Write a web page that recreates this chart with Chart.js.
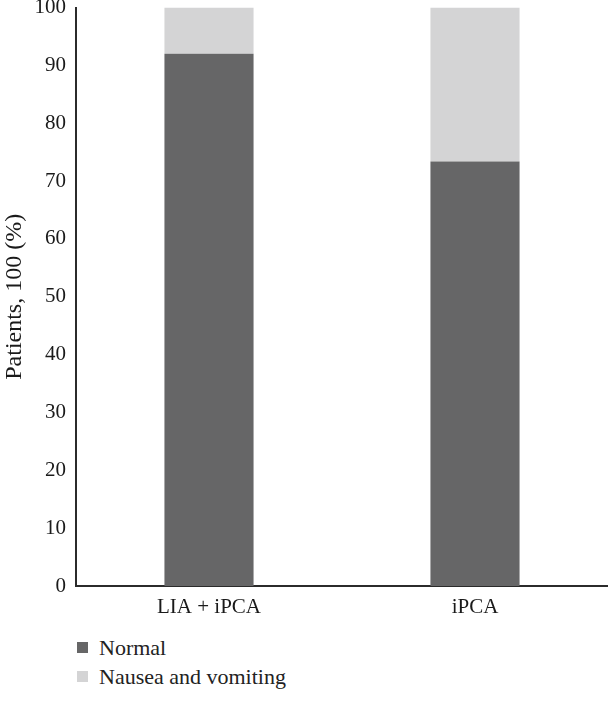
<!DOCTYPE html>
<html>
<head>
<meta charset="utf-8">
<script src="https://cdn.jsdelivr.net/npm/chart.js@4.4.1/dist/chart.umd.min.js"></script>
<style>
    body {
        margin: 0;
        background: #ffffff;
        font-family: 'Liberation Serif', serif;
        overflow: hidden;
    }
    .chart-wrap {
        position: relative;
        width: 608px;
        height: 636px;
        margin-top: -15px;
    }
    .legend {
        position: absolute;
        left: 77px;
        top: 633px;
        font-size: 22px;
        color: #222222;
    }
    .legend-item {
        display: flex;
        align-items: center;
        height: 29px;
    }
    .legend-box {
        width: 11px;
        height: 11px;
        margin-right: 11px;
    }
</style>
</head>
<body>
<div class="chart-wrap">
    <canvas id="pcaChart"></canvas>
</div>
<div class="legend" id="legend"></div>

<script>
// Chart data
const categories = ['LIA + iPCA', 'iPCA'];
const normalValues = [92.0, 73.4];
const nauseaValues = [8.0, 26.6];
const yTicks = [0, 10, 20, 30, 40, 50, 60, 70, 80, 90, 100];

const seriesNames = ['Normal', 'Nausea and vomiting'];
const seriesColors = ['#666667', '#d4d4d5'];

document.addEventListener('DOMContentLoaded', function() {
    const chart = initializePcaChart();
    buildLegend(chart);
});

function initializePcaChart() {
    const ctx = document.getElementById('pcaChart');
    const tickFont = { family: "'Liberation Serif', serif", size: 21 };

    const config = {
        type: 'bar',
        data: {
            labels: categories,
            datasets: [{
                label: seriesNames[0],
                data: normalValues,
                backgroundColor: seriesColors[0],
                borderWidth: 0
            }, {
                label: seriesNames[1],
                data: nauseaValues,
                backgroundColor: seriesColors[1],
                borderWidth: 0
            }]
        },
        options: {
            responsive: true,
            maintainAspectRatio: false,
            animation: false,
            layout: { padding: 0 },
            datasets: {
                bar: { categoryPercentage: 1.0, barPercentage: 0.335 }
            },
            plugins: {
                legend: { display: false },
                tooltip: { enabled: false }
            },
            scales: {
                x: {
                    stacked: true,
                    grid: { display: false, drawTicks: false },
                    border: { color: '#2b2b2b', width: 2 },
                    ticks: {
                        color: '#1a1a1a',
                        font: tickFont,
                        padding: 9
                    },
                    afterFit: function(scale) { scale.height = 35; }
                },
                y: {
                    stacked: true,
                    min: 0,
                    max: 100,
                    afterBuildTicks: function(scale) {
                        scale.ticks = yTicks.map(v => ({ value: v }));
                    },
                    grid: { display: false, drawTicks: false },
                    border: { color: '#2b2b2b', width: 2 },
                    ticks: {
                        color: '#1a1a1a',
                        font: tickFont,
                        padding: 10
                    },
                    title: {
                        display: true,
                        text: 'Patients, 100 (%)',
                        color: '#1a1a1a',
                        font: { family: "'Liberation Serif', serif", size: 24 },
                        padding: 0
                    },
                    afterFit: function(scale) { scale.width = 76; }
                }
            }
        }
    };

    return new Chart(ctx, config);
}

// Vertical legend under the plot, built from the chart datasets
function buildLegend(chart) {
    const legend = document.getElementById('legend');
    chart.data.datasets.forEach(ds => {
        const item = document.createElement('div');
        item.className = 'legend-item';
        item.innerHTML = `<span class="legend-box" style="background:${ds.backgroundColor}"></span><span>${ds.label}</span>`;
        legend.appendChild(item);
    });
}
</script>
</body>
</html>
